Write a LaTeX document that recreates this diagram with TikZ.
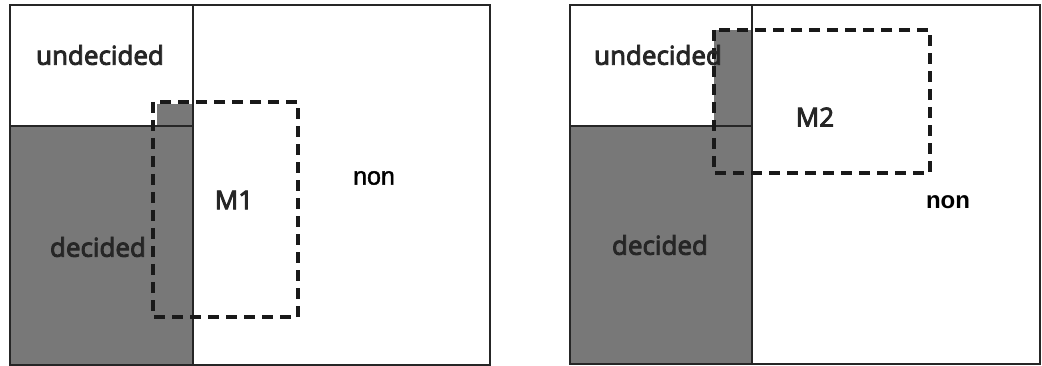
\documentclass[tikz,border=0pt]{standalone}
\usepackage{fontspec}
\newfontfamily\lblfont[FakeBold=3.5]{Open Sans}
\newfontfamily\arialfont[FakeBold=1.5]{Liberation Sans}
\newfontfamily\arialbold{Liberation Sans}
\tikzset{
  frame/.style={draw=black!85, line width=2.2pt},
  divider/.style={draw=black!85, line width=1.8pt},
  shade/.style={fill=black!53},
  mbox/.style={draw=black!90, line width=3.4pt, dash pattern=on 11pt off 7pt},
  lbl/.style={font=\lblfont\fontsize{26}{28}\selectfont, text=black!85, inner sep=0pt},
  nonlbl/.style={font=\arialfont\fontsize{25}{28}\selectfont, inner sep=0pt},
}
\begin{document}
\begin{tikzpicture}[x=1pt,y=-1pt]
\useasboundingbox (0,0) rectangle (1042,366);
% ---------- left panel ----------
\fill[shade] (10,126) rectangle (193,365);
\fill[shade] (157,104) rectangle (193,126);
\draw[divider] (10,126) -- (193,126);
\draw[divider] (193,5) -- (193,365);
\draw[frame] (10,5) rectangle (490,365);
\draw[mbox] (153,102) rectangle (298,317);
\node[lbl] (und1) at (100,55) {undecided};
\node[lbl] (dec1) at (98,247) {decided};
\node[lbl] (m1) at (234,200) {M1};
\node[nonlbl] (non1) at (374,178) {non};
% ---------- right panel ----------
\fill[shade] (570,126) rectangle (752,364);
\fill[shade] (714,30) rectangle (752,126);
\draw[divider] (570,126) -- (752,126);
\draw[divider] (752,5) -- (752,364);
\draw[frame] (570,5) rectangle (1040,364);
\draw[mbox] (714,30) rectangle (930,173);
\node[lbl] (und2) at (658,55) {undecided};
\node[lbl] (dec2) at (660,245) {decided};
\node[lbl] (m2) at (815,117) {M2};
\node[nonlbl, font=\arialbold\bfseries\fontsize{24}{28}\selectfont] (non2) at (948,202) {non};
\end{tikzpicture}
\end{document}
